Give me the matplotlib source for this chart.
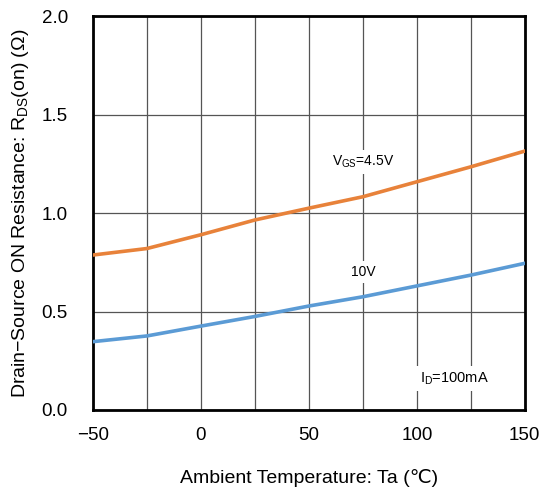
import matplotlib
matplotlib.use("Agg")
import matplotlib.pyplot as plt

plt.rcParams['font.family'] = ['Liberation Sans', 'DejaVu Sans']
plt.rcParams['mathtext.fontset'] = 'custom'
plt.rcParams['mathtext.rm'] = 'Liberation Sans'
plt.rcParams['mathtext.it'] = 'Liberation Sans'

temps = [-50, -25, 0, 25, 50, 75, 100, 125, 150]
r_vgs45 = [0.787, 0.82, 0.89, 0.965, 1.025, 1.083, 1.159, 1.235, 1.315]
r_vgs10 = [0.347, 0.376, 0.426, 0.475, 0.528, 0.575, 0.63, 0.685, 0.745]

xticks = [-50, 0, 50, 100, 150]
yticks = [0.0, 0.5, 1.0, 1.5, 2.0]

fig = plt.figure(figsize=(5.53, 4.91), dpi=100)
ax = fig.add_axes([0.168, 0.165, 0.781, 0.802])

ax.set_xlim(-50, 150)
ax.set_ylim(0, 2.0)
ax.set_xticks(xticks)
ax.set_xticks([-25, 25, 75, 125], minor=True)
ax.set_yticks(yticks)
ax.set_xticklabels(["\u221250", "0", "50", "100", "150"])
ax.set_yticklabels([f"{v:.1f}" for v in yticks])
ax.grid(True, which='both', color='#555555', linewidth=0.9)
ax.tick_params(which='both', length=0, labelsize=13.5)
ax.tick_params(axis='x', pad=12)
ax.tick_params(axis='y', pad=18)

ax.plot(temps, r_vgs45, color='#E8823A', linewidth=2.6, zorder=3)
ax.plot(temps, r_vgs10, color='#5B9BD5', linewidth=2.6, zorder=3)

for s in ax.spines.values():
    s.set_linewidth(2.0)
    s.set_color('black')

bbox = dict(facecolor='white', edgecolor='none', pad=3)
ax.text(75, 1.26, r"V$_{\mathrm{GS}}$=4.5V", fontsize=10, ha='center', va='center', bbox=bbox, zorder=2)
ax.text(75, 0.70, "10V", fontsize=10, ha='center', va='center', bbox=bbox, zorder=2)
ax.text(117.5, 0.16, r"I$_{\mathrm{D}}$=100mA", fontsize=10.5, ha='center', va='center', bbox=bbox, zorder=2)

ax.set_xlabel("Ambient Temperature: Ta (\u2103)", fontsize=14, labelpad=18)
ax.set_ylabel("Drain\u2212Source ON Resistance: R$_{\\mathrm{DS}}$(on) ($\\Omega$)", fontsize=14, labelpad=8)

fig.savefig("out.png", dpi=100, facecolor='white')
